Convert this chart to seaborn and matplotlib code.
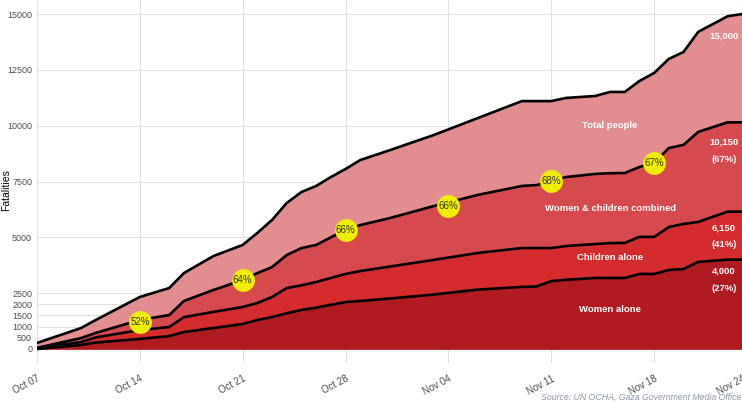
import seaborn as sns
import matplotlib.pyplot as plt
import matplotlib.dates as mdates
import pandas as pd

# cumulative fatalities
dates = ["2023-10-07", "2023-10-10", "2023-10-11", "2023-10-14", "2023-10-16", "2023-10-17",
         "2023-10-19", "2023-10-21", "2023-10-22", "2023-10-23", "2023-10-24", "2023-10-25",
         "2023-10-26", "2023-10-27", "2023-10-28", "2023-10-29", "2023-10-31", "2023-11-03",
         "2023-11-06", "2023-11-09", "2023-11-10", "2023-11-11", "2023-11-12", "2023-11-14",
         "2023-11-15", "2023-11-16", "2023-11-17", "2023-11-18", "2023-11-19", "2023-11-20",
         "2023-11-21", "2023-11-23", "2023-11-24"]
total_people = [270, 940, 1300, 2330, 2730, 3400, 4160, 4660, 5200, 5780, 6540, 7030,
                7300, 7700, 8060, 8460, 8900, 9580, 10340, 11100, 11100, 11100, 11240, 11330,
                11510, 11510, 12000, 12360, 12990, 13300, 14200, 14900, 15000]
women_children = [50, 490, 720, 1300, 1520, 2150, 2640, 3090, 3400, 3670, 4210, 4520,
                  4660, 5000, 5330, 5550, 5860, 6400, 6900, 7300, 7340, 7520, 7700, 7840,
                  7870, 7880, 8150, 8330, 9000, 9140, 9720, 10150, 10150]
children_alone = [30, 310, 520, 850, 985, 1430, 1660, 1880, 2060, 2330, 2730, 2850,
                  3000, 3180, 3360, 3490, 3690, 3990, 4300, 4520, 4520, 4520, 4610, 4700,
                  4740, 4750, 5020, 5020, 5460, 5600, 5690, 6150, 6150]
women_alone = [0, 180, 290, 450, 580, 760, 940, 1120, 1300, 1430, 1600, 1750,
               1850, 1980, 2100, 2150, 2260, 2440, 2660, 2780, 2800, 3040, 3100, 3180,
               3180, 3180, 3360, 3360, 3540, 3580, 3900, 4000, 4000]

pct_dates = ["2023-10-14", "2023-10-21", "2023-10-28", "2023-11-04", "2023-11-11", "2023-11-18"]
pct_values = [1210, 3090, 5330, 6400, 7520, 8330]
pct_labels = ["52%", "64%", "66%", "66%", "68%", "67%"]

tick_dates = ["2023-10-07", "2023-10-14", "2023-10-21", "2023-10-28", "2023-11-04",
              "2023-11-11", "2023-11-18", "2023-11-24"]

series_names = ["Total people", "Women & children combined", "Children alone", "Women alone"]
series_colors = ["#E28E91", "#D64A4D", "#D42B2D", "#AF1B1E"]
label_y = [9990, 6270, 4075, 1790]
end_texts = ["15,000", "10,150", "(67%)", "6,150", "(41%)", "4,000", "(27%)"]
end_y = [14016, 9270, 8463, 5418, 4657, 3493, 2687]

df = pd.DataFrame({
    "date": pd.to_datetime(dates),
    "Total people": total_people,
    "Women & children combined": women_children,
    "Children alone": children_alone,
    "Women alone": women_alone,
})

sns.set_theme(style="whitegrid")
plt.rcParams['font.family'] = ['Liberation Sans', 'DejaVu Sans']

fig = plt.figure(figsize=(7.42, 4.03), dpi=100)
# panel runs a little past the right edge, as in the source
ax = fig.add_axes([37 / 742, 1 - 363 / 403, 720 / 742, 363 / 403])

for name, color in zip(series_names, series_colors):
    ax.fill_between(df["date"], 0, df[name], color=color, lw=0, zorder=2)
for name in series_names:
    sns.lineplot(data=df, x="date", y=name, color="black", lw=1.9, ax=ax, zorder=3)

ax.scatter(pd.to_datetime(pct_dates), pct_values, s=270, color="#EEEE00", zorder=4, lw=0)
for d, v, t in zip(pd.to_datetime(pct_dates), pct_values, pct_labels):
    ax.text(d, v, t, ha="center", va="center", fontsize=7, color="#333333", zorder=5)

mid = pd.Timestamp("2023-11-15")
for name, y in zip(series_names, label_y):
    ax.text(mid, y, name, ha="center", va="center", color="white", fontsize=6.8,
            fontweight="bold", zorder=5)
end_x = pd.Timestamp("2023-11-22 18:00")
for t, y in zip(end_texts, end_y):
    ax.text(end_x, y, t, ha="center", va="center", color="white", fontsize=6.8,
            fontweight="bold", zorder=5)

ax.set_ylim(-627, 15627)
ax.set_xlim(pd.Timestamp("2023-10-07"), pd.Timestamp("2023-11-25"))
ax.set_yticks([0, 500, 1000, 1500, 2000, 2500, 5000, 7500, 10000, 12500, 15000])
ax.set_xticks(pd.to_datetime(tick_dates))
ax.xaxis.set_major_formatter(mdates.DateFormatter("%b %d"))
ax.tick_params(axis="both", colors="#4D4D4D", labelsize=6.5, length=2.5, width=0.6, pad=1)
ax.tick_params(axis="x", labelsize=7, pad=5)
plt.setp(ax.get_xticklabels(), rotation=28, ha="right", rotation_mode="anchor")
ax.set_xlabel("")
ax.set_ylabel("")
ax.grid(color="#E0E0E0", lw=0.8)
for s in ax.spines.values():
    s.set_visible(False)

fig.text(6 / 742, 1 - 190 / 403, "Fatalities", rotation=90, ha="center", va="center",
         fontsize=7.5, color="black")
fig.text(0.999, 0.004, "Source: UN OCHA, Gaza Government Media Office", ha="right", va="bottom",
         fontsize=6.3, style="italic", color="#8A97A6")

fig.savefig("out.png", dpi=100)
